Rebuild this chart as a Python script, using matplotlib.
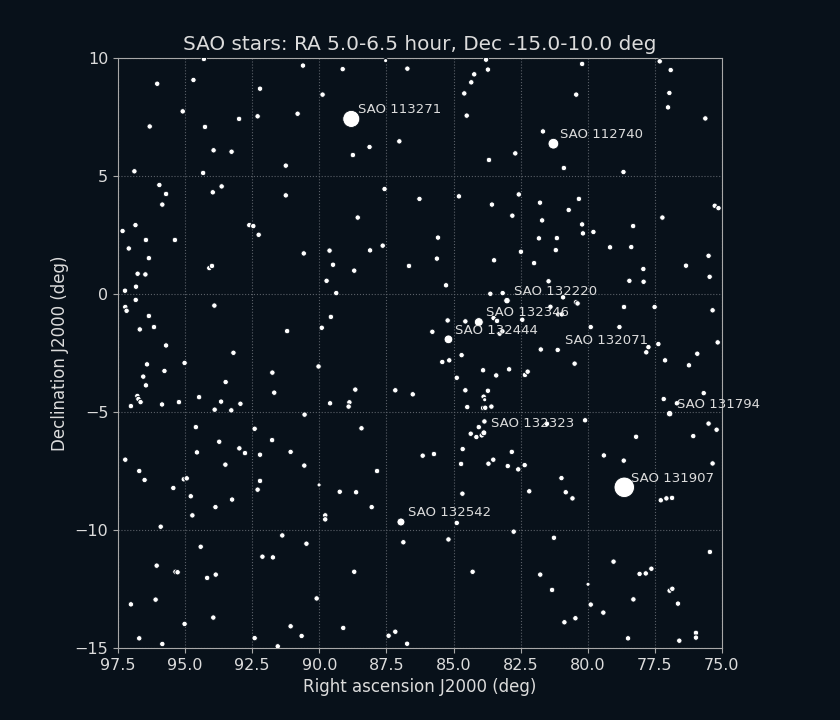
import numpy as np
import matplotlib
matplotlib.use("Agg")
import matplotlib.pyplot as plt

# field stars (RA deg, Dec deg)
field_ra = [
    94.30, 90.61, 89.13, 86.72, 96.04, 94.69, 92.21, 89.88, 95.09, 96.32, 94.26, 92.99, 92.30,
    90.81, 87.02, 88.13, 88.75, 93.94, 93.27, 91.25, 96.89, 94.33, 95.96, 95.71, 95.85, 93.97,
    93.64, 91.25, 87.57, 88.57, 97.33, 96.85, 96.46, 95.38, 97.10, 92.61, 92.46, 92.26, 87.64,
    83.79, 83.72, 84.23, 84.34, 84.60, 84.51, 80.21, 80.43, 77.32, 76.91, 76.96, 77.01, 75.62,
    81.67, 82.70, 83.68, 80.89, 78.67, 86.27, 84.80, 83.57, 82.57, 81.78, 80.33, 80.71, 82.81,
    81.70, 80.21, 80.18, 79.79, 78.31, 77.22, 75.27, 75.13, 85.58, 81.82, 81.15, 79.17, 78.38,
    96.35, 96.77, 96.48, 96.83, 97.24, 96.84, 97.23, 97.18, 96.35, 96.69, 96.16, 95.71, 96.42,
    95.77, 96.56, 96.46, 96.78, 96.74, 96.66, 97.02, 95.86, 95.23, 95.02, 94.10, 94.00, 93.91,
    93.20, 93.49, 94.48, 93.66, 93.90, 93.28, 92.94, 94.60, 93.73, 92.41, 91.76, 90.58, 91.20,
    91.75, 91.68, 90.55, 89.62, 89.49, 89.73, 88.70, 89.37, 89.57, 89.91, 90.03, 89.60, 88.88,
    88.91, 88.66, 88.43, 88.11, 86.66, 87.17, 86.52,
    85.62, 83.49, 82.49, 81.19, 82.00, 85.28, 81.46, 83.63, 83.17, 80.92, 80.44, 80.38, 81.39,
    81.10, 80.97, 85.22, 84.56, 83.51, 83.38, 82.44, 85.79, 83.28, 83.18, 79.89, 78.82, 78.65,
    77.51, 78.45, 77.93, 77.92, 76.34, 75.50, 75.46, 75.35, 75.16, 77.74, 77.82, 77.37, 77.12,
    75.92, 76.23, 81.75, 80.49, 84.70, 85.42, 85.16, 84.88, 83.90, 83.41, 82.93, 82.34, 82.24,
    84.56, 83.72, 83.88, 84.49, 83.90, 83.82, 83.59, 83.85, 84.06, 84.36, 84.15, 83.95, 81.52,
    80.10, 78.20, 77.17, 76.68, 75.68, 75.50, 75.20, 76.07,
    97.23, 96.71, 96.51, 95.44, 95.05, 94.94, 94.79, 94.73, 95.91, 94.56, 93.50, 93.87, 93.25,
    92.98, 92.77, 92.21, 92.21, 92.30, 91.07, 90.56, 89.24, 88.63, 89.78, 89.78, 87.85, 88.05,
    86.87, 91.38, 90.48, 92.12, 91.73, 94.42, 96.06, 95.36, 95.28, 94.18, 93.86, 97.02, 96.10,
    95.02, 93.95, 96.71, 95.85, 92.41, 91.55, 91.07, 90.66, 90.10, 89.11, 88.70, 87.42, 87.17,
    86.73,
    86.15, 85.73, 84.66, 84.72, 84.67, 83.70, 83.52, 82.83, 82.98, 82.59, 82.35, 82.18, 80.98,
    80.82, 80.57, 79.40, 78.66, 77.28, 77.07, 76.86, 75.35, 84.88, 85.19, 82.76, 81.26, 84.29,
    81.77, 81.33, 79.89, 80.87, 80.46, 79.42, 79.04, 78.30, 78.07, 77.84, 77.63, 78.50, 76.95,
    76.85, 76.64, 76.59, 75.97, 75.97, 75.45,
]
field_dec = [
    9.96, 9.68, 9.53, 9.55, 8.91, 9.07, 8.70, 8.45, 7.74, 7.10, 7.08, 7.42, 7.53,
    7.64, 6.47, 6.23, 5.89, 6.09, 6.03, 5.44, 5.20, 5.13, 4.62, 4.24, 3.79, 4.31,
    4.56, 4.18, 4.45, 3.24, 2.67, 2.92, 2.29, 2.29, 1.93, 2.92, 2.88, 2.51, 2.05,
    9.93, 9.51, 9.31, 8.97, 8.50, 7.56, 9.75, 8.45, 9.86, 9.49, 8.52, 7.91, 7.44,
    6.89, 5.96, 5.68, 5.34, 5.17, 4.03, 4.14, 3.79, 4.22, 3.87, 4.03, 3.56, 3.32,
    3.12, 2.95, 2.57, 2.63, 2.88, 3.24, 3.74, 3.64, 2.39, 2.36, 2.37, 1.98, 1.99,
    1.52, 0.86, 0.83, 0.31, 0.14, -0.25, -0.55, -0.71, -0.93, -1.50, -1.40, -2.18, -2.98,
    -3.26, -3.50, -3.87, -4.32, -4.45, -4.58, -4.75, -4.68, -4.58, -2.92, 1.10, 1.19, -0.49,
    -2.49, -3.73, -4.37, -4.56, -4.90, -4.93, -4.65, -5.64, -6.26, -5.71, -6.19, 1.72, -1.57,
    -3.33, -4.18, -5.11, 1.84, 1.24, 0.56, 0.99, 0.04, -0.97, -1.43, -3.07, -4.63, -4.59,
    -4.77, -4.05, -5.69, 1.85, 1.19, -4.08, -4.25,
    1.50, 1.43, 1.79, 1.86, 1.31, 0.37, 0.54, 0.01, 0.04, -0.14, -0.35, -0.40, -0.54,
    -0.86, -0.86, -1.12, -1.16, -1.02, -1.14, -1.09, -1.60, -1.68, -1.58, -1.40, -1.40, -0.55,
    -0.55, 0.56, 1.06, 0.52, 1.20, 1.62, 0.73, -0.69, -2.05, -2.25, -2.47, -2.12, -2.81,
    -2.53, -3.02, -2.35, -2.95, -2.59, -2.88, -2.81, -3.55, -3.23, -3.45, -3.19, -3.43, -3.29,
    -4.08, -4.10, -4.35, -4.79, -4.83, -4.82, -4.77, -5.40, -5.64, -5.92, -6.06, -5.99, -5.50,
    -5.35, -6.05, -4.45, -4.63, -4.20, -5.49, -5.75, -6.02,
    -7.02, -7.50, -7.88, -8.22, -7.85, -7.81, -8.57, -9.38, -9.86, -6.71, -7.23, -9.03, -8.71,
    -6.54, -6.74, -6.81, -7.92, -8.29, -6.69, -7.27, -8.38, -8.40, -9.38, -9.55, -7.50, -9.03,
    -10.52, -10.23, -10.58, -11.13, -11.16, -10.71, -11.51, -11.77, -11.79, -12.03, -11.89, -13.15, -12.95,
    -13.98, -13.71, -14.59, -14.83, -14.58, -14.93, -14.08, -14.49, -12.90, -14.15, -11.77, -14.48, -14.31,
    -14.82,
    -6.85, -6.78, -6.57, -7.20, -8.46, -7.19, -7.02, -6.69, -7.29, -7.43, -7.25, -8.36, -7.80,
    -8.40, -8.66, -6.84, -7.06, -8.74, -8.66, -8.64, -7.18, -9.70, -10.40, -10.07, -10.33, -11.77,
    -11.89, -12.54, -13.16, -13.91, -13.74, -13.50, -11.34, -12.94, -11.86, -11.84, -11.64, -14.59, -12.57,
    -12.49, -13.12, -14.69, -14.36, -14.56, -10.93,
]

# very faint stars
faint_ra = [87.53, 83.84, 90.01, 79.99]
faint_dec = [9.89, -4.48, -8.09, -12.30]

# labelled bright stars
names = ["SAO 113271", "SAO 112740", "SAO 132220", "SAO 132346", "SAO 132444",
         "SAO 132071", "SAO 131794", "SAO 132323", "SAO 131907", "SAO 132542"]
bright_ra = [88.81, 81.28, 83.01, 84.06, 85.19, 81.12, 76.95, 83.87, 78.64, 86.96]
bright_dec = [7.42, 6.37, -0.28, -1.19, -1.92, -2.37, -5.07, -5.88, -8.19, -9.66]
bright_mag = [5.5, 6.5, 7.6, 6.9, 6.95, 8.0, 7.6, 7.8, 5.1, 7.15]

field_mag = 8.0
faint_mag = 8.5

bg = "#08111a"
fg = "#dcdcdc"


def mag_size(m):
    return 15 * 10 ** (0.4 * (8.0 - np.asarray(m, dtype=float)))


fig = plt.figure(figsize=(8.4, 7.2), dpi=100, facecolor=bg)
ax = fig.add_axes([0.1405, 0.1, 0.719, 0.8194])
ax.set_facecolor(bg)

ax.scatter(field_ra, field_dec, s=mag_size(np.full(len(field_ra), field_mag)),
           c="white", edgecolors=bg, linewidths=0.6, zorder=3)
ax.scatter(faint_ra, faint_dec, s=mag_size(np.full(len(faint_ra), faint_mag)),
           c="white", edgecolors=bg, linewidths=0.8, zorder=3)
ax.scatter(bright_ra, bright_dec, s=mag_size(bright_mag),
           c="white", edgecolors=bg, linewidths=0.6, zorder=4)

for name, x, y in zip(names, bright_ra, bright_dec):
    ax.annotate(name, (x, y), xytext=(5, 2), textcoords="offset points",
                ha="left", va="bottom", fontsize=9.5, color=fg, zorder=5)

ax.set_xlim(97.5, 75.0)
ax.set_ylim(-15, 10)
ax.set_xticks(np.arange(97.5, 74.9, -2.5))
ax.set_yticks(np.arange(-15, 10.1, 5))
ax.xaxis.set_major_formatter(matplotlib.ticker.FormatStrFormatter("%.1f"))

ax.grid(True, color="#5a6068", linestyle=":", linewidth=0.8, zorder=0)
for sp in ax.spines.values():
    sp.set_color("#a8a8a8")
ax.tick_params(colors="#a8a8a8", labelcolor=fg, labelsize=11.5)

ax.set_xlabel("Right ascension J2000 (deg)", color=fg, fontsize=12)
ax.set_ylabel("Declination J2000 (deg)", color=fg, fontsize=12)
ax.set_title("SAO stars: RA 5.0-6.5 hour, Dec -15.0-10.0 deg", color=fg, fontsize=14.4)

fig.savefig("out.png", dpi=100, facecolor=bg)
